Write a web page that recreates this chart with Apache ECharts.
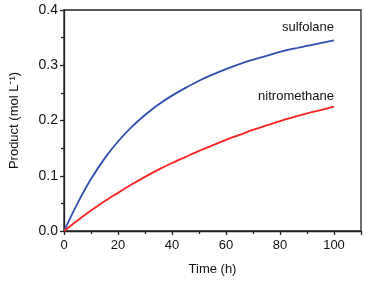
<!DOCTYPE html>
<html>
<head>
<meta charset="utf-8">
<script src="https://cdn.jsdelivr.net/npm/echarts@6/dist/echarts.min.js"></script>
<style>
  html, body { margin: 0; padding: 0; background: #fff; }
  #chart { width: 366px; height: 281px; }
</style>
</head>
<body>
<div id="chart"></div>
<script>
// time (h)
const time = [0, 5, 10, 15, 20, 25, 30, 35, 40, 45, 50, 55, 60, 65, 70, 75, 80, 85, 90, 95, 100];
// product (mol L-1)
const sulfolane = [0, 0.050, 0.094, 0.131, 0.162, 0.188, 0.210, 0.229, 0.245, 0.259, 0.272, 0.283,
  0.293, 0.302, 0.310, 0.317, 0.324, 0.330, 0.335, 0.340, 0.345];
const nitromethane = [0, 0.019, 0.037, 0.054, 0.069, 0.084, 0.098, 0.111, 0.123, 0.134, 0.145, 0.155,
  0.165, 0.174, 0.183, 0.191, 0.199, 0.206, 0.213, 0.219, 0.225];

const font = "Liberation Sans, Arial, sans-serif";

const chart = echarts.init(document.getElementById("chart"));

function lineSeries(name, vals, color, offY) {
  return {
    name: name,
    type: "line",
    data: vals.map((v, i) => [time[i], v]),
    smooth: 0.3,
    showSymbol: false,
    symbol: "none",
    lineStyle: { color: color, width: 1.8 },
    itemStyle: { color: color },
    endLabel: {
      show: true,
      formatter: name,
      align: "right",
      verticalAlign: "middle",
      offset: [-8, offY],
      color: "#111",
      fontSize: 13,
      fontFamily: font,
    },
  };
}

chart.setOption({
  animation: false,
  grid: {
    left: 60,
    top: 10,
    right: 5,
    bottom: 47,
    show: true,
    borderColor: "#222",
    borderWidth: 1.3,
  },
  xAxis: {
    type: "value",
    min: 0,
    max: 110,
    interval: 20,
    name: "Time (h)",
    nameLocation: "middle",
    nameGap: 32,
    nameTextStyle: { color: "#111", fontSize: 13, fontFamily: font },
    axisLine: { lineStyle: { color: "#222", width: 1.3 } },
    axisTick: { length: 4, lineStyle: { color: "#222", width: 1.3 } },
    minorTick: { show: true, splitNumber: 2, length: 3, lineStyle: { color: "#222", width: 1.3 } },
    axisLabel: {
      color: "#111", fontSize: 13, fontFamily: font, margin: 8,
      formatter: (v) => (v > 100 ? "" : v),
    },
    splitLine: { show: false },
  },
  yAxis: {
    type: "value",
    min: 0,
    max: 0.4,
    interval: 0.1,
    name: "Product (mol L⁻¹)",
    nameLocation: "middle",
    nameGap: 43,
    nameTextStyle: { color: "#111", fontSize: 13, fontFamily: font },
    axisLine: { lineStyle: { color: "#222", width: 1.3 } },
    axisTick: { length: 4, lineStyle: { color: "#222", width: 1.3 } },
    minorTick: { show: true, splitNumber: 2, length: 3, lineStyle: { color: "#222", width: 1.3 } },
    axisLabel: {
      color: "#111", fontSize: 14, fontFamily: font, margin: 6,
      formatter: (v) => v.toFixed(1),
    },
    splitLine: { show: false },
  },
  series: [
    lineSeries("sulfolane", sulfolane, "#2f4fb0", -13),
    lineSeries("nitromethane", nitromethane, "#ff2222", -10),
  ],
});
</script>
</body>
</html>
